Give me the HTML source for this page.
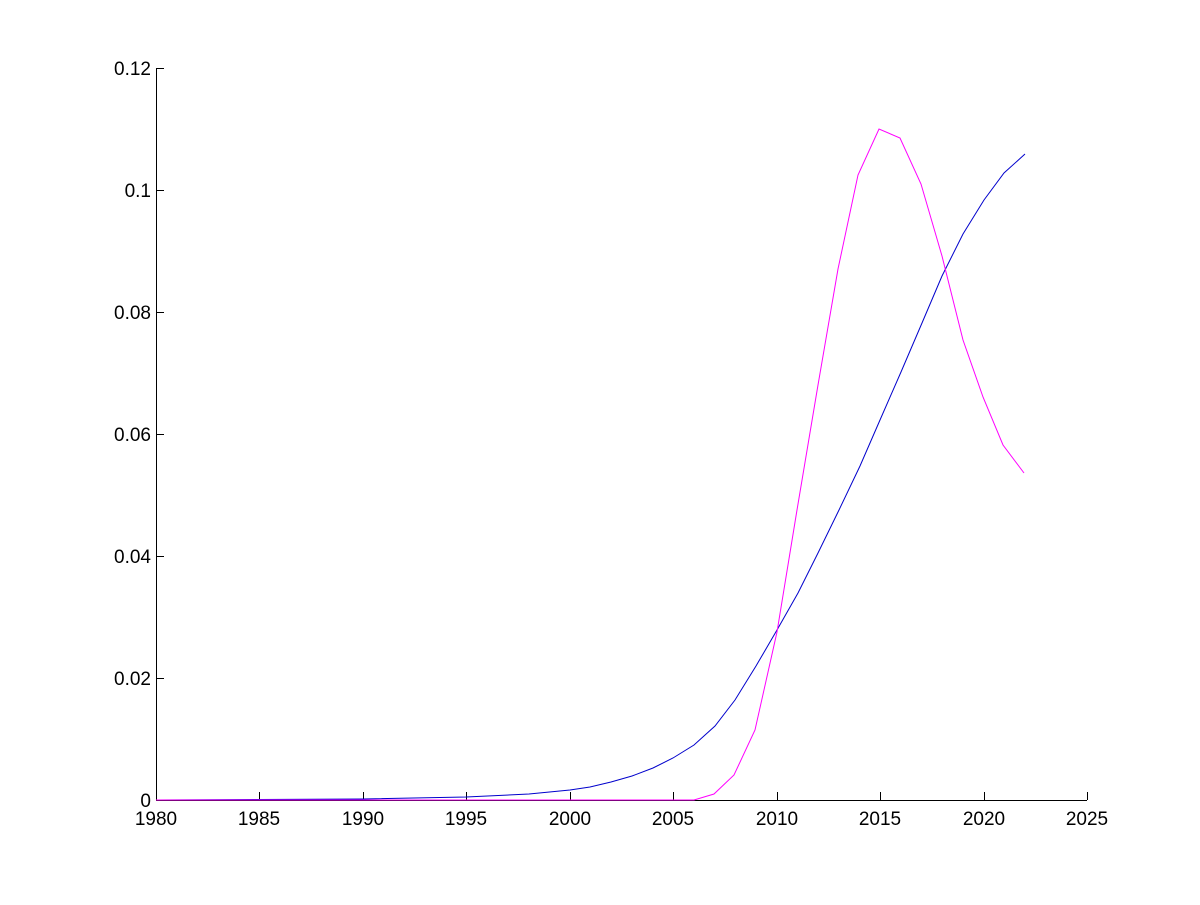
<!DOCTYPE html>
<html><head><style>body{margin:0;background:#fff}</style></head><body>
<svg width="1200" height="900" xmlns="http://www.w3.org/2000/svg" font-family="Liberation Sans, sans-serif" font-size="19">
<rect width="1200" height="900" fill="#fff"/>
<g stroke="#000" stroke-width="1" fill="none">
<line x1="156.5" y1="68" x2="156.5" y2="800.5"/>
<line x1="156" y1="800.5" x2="1087" y2="800.5"/>
<path d="M156 68.5h8M156 190.5h8M156 312.5h8M156 434.5h8M156 556.5h8M156 678.5h8
M259.5 800v-8M363.5 800v-8M466.5 800v-8M570.5 800v-8M673.5 800v-8M777.5 800v-8M880.5 800v-8M984.5 800v-8M1087.5 800v-8"/>
</g>
<g text-anchor="end">
<text x="151" y="75">0.12</text><text x="151" y="197">0.1</text><text x="151" y="319">0.08</text>
<text x="151" y="441">0.06</text><text x="151" y="563">0.04</text><text x="151" y="685">0.02</text><text x="151" y="807">0</text>
</g>
<g text-anchor="middle">
<text x="156" y="825">1980</text><text x="259" y="825">1985</text><text x="363" y="825">1990</text><text x="466" y="825">1995</text>
<text x="570" y="825">2000</text><text x="673" y="825">2005</text><text x="777" y="825">2010</text><text x="880" y="825">2015</text>
<text x="984" y="825">2020</text><text x="1087" y="825">2025</text>
</g>
<polyline fill="none" stroke="#0000cc" stroke-width="1" points="156,800 259,799.5 363,799 466,797 529,794 570,790 590,787 611,782 632,776 653,768 673,758 694,745 715,726 735,700 756,666 777,630 798,593 818,553 839,510 860,466 880,420 901,372 922,323 942,276 963,234 984,200 1004,173 1025,154"/>
<polyline fill="none" stroke="#ff00ff" stroke-width="1" points="156,800 694,800 714,794 734,775 755,730 777,632 797,510 818,385 838,269 858,175 879,129 900,138 921,184 942,256 963,340 983,397 1003,445 1024,473"/>
</svg>
</body></html>
